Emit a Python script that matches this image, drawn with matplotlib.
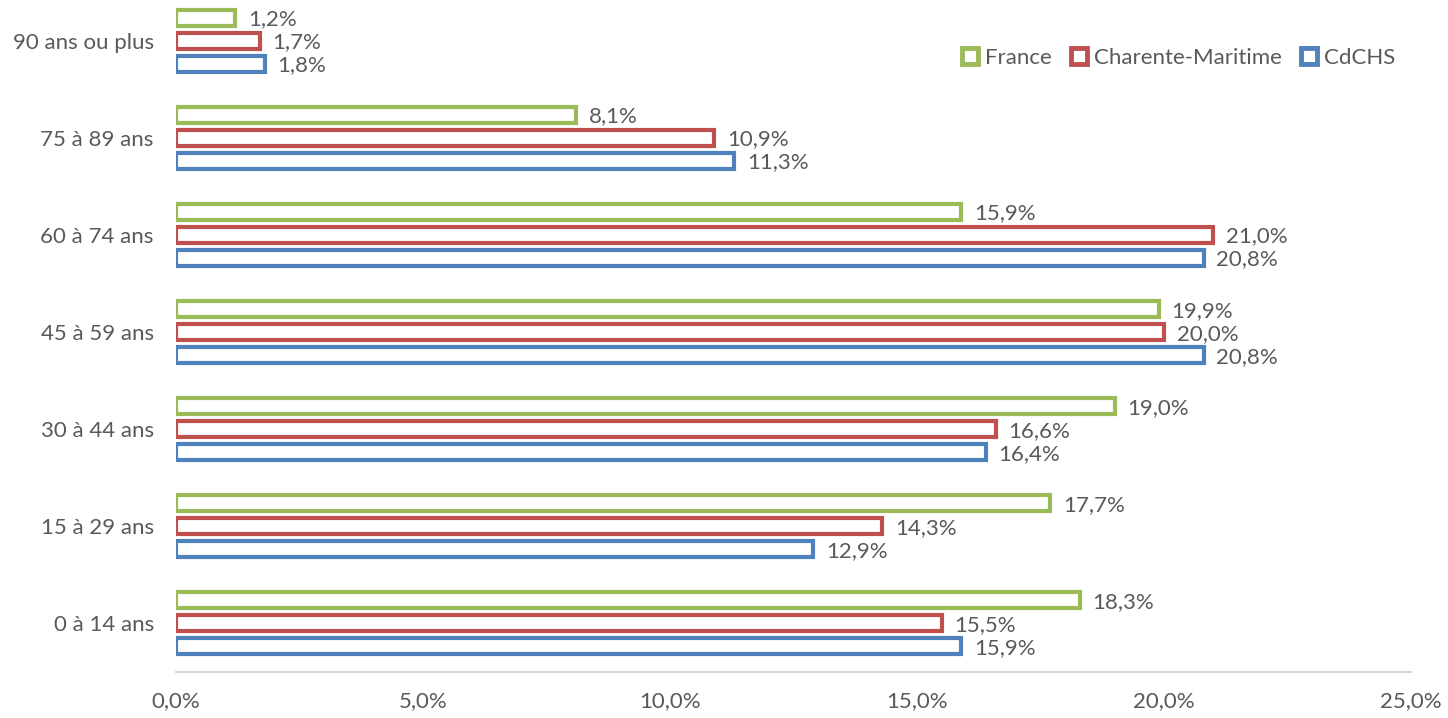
import matplotlib.pyplot as plt
import numpy as np
from matplotlib.lines import Line2D

plt.rcParams["font.family"] = ["Lato", "DejaVu Sans"]

categories = ["0 à 14 ans", "15 à 29 ans", "30 à 44 ans", "45 à 59 ans",
              "60 à 74 ans", "75 à 89 ans", "90 ans ou plus"]
france = [18.3, 17.7, 19.0, 19.9, 15.9, 8.1, 1.2]
charente = [15.5, 14.3, 16.6, 20.0, 21.0, 10.9, 1.7]
cdchs = [15.9, 12.9, 16.4, 20.8, 20.8, 11.3, 1.8]
xticks = [0, 5, 10, 15, 20, 25]

series = [
    ("France", france, "#9BBB59", 0.237),
    ("Charente-Maritime", charente, "#C0504D", 0.0),
    ("CdCHS", cdchs, "#4F81BD", -0.237),
]
grey = "#595959"
fs = 16

fig = plt.figure(figsize=(14.48, 7.18), dpi=100)
ax = fig.add_axes([176 / 1448, 46 / 718, (1411 - 176) / 1448, (672 + 7.5) / 718])

y = np.arange(len(categories))
lw = 3.0
for name, vals, col, off in series:
    ax.barh(y + off, vals, height=0.165, facecolor="white", edgecolor=col,
            linewidth=lw, label=name)
    for yi, v in zip(y + off, vals):
        ax.annotate(f"{v:.1f}%".replace(".", ","), (v, yi), xytext=(9, -1),
                    textcoords="offset points", va="center", ha="left",
                    fontsize=fs, color=grey)

ax.set_xlim(0, 25)
ax.set_ylim(-0.5, 6.5)
ax.set_xticks(xticks)
ax.set_xticklabels([f"{t:.1f}%".replace(".", ",") for t in xticks])
ax.set_yticks(y)
ax.set_yticklabels(categories)
ax.tick_params(axis="both", length=0, labelsize=fs, labelcolor=grey)
ax.tick_params(axis="y", pad=16)
ax.tick_params(axis="x", pad=14)
for s in ["top", "right", "left"]:
    ax.spines[s].set_visible(False)
ax.spines["bottom"].set_color("#D9D9D9")
ax.spines["bottom"].set_linewidth(1.5)

handles = [Line2D([], [], marker="s", linestyle="none", markersize=11.5,
                  markerfacecolor="white", markeredgecolor=col, markeredgewidth=3.5)
           for _, _, col, _ in series]
leg = fig.legend(handles, [s[0] for s in series], ncol=3, loc="center right",
                 bbox_to_anchor=(1404 / 1448, 1 - 58 / 718), frameon=False,
                 fontsize=fs, handletextpad=0.2, columnspacing=0.8,
                 handlelength=0.9, borderaxespad=0)
for t in leg.get_texts():
    t.set_color(grey)

fig.savefig("out.png", dpi=100)
